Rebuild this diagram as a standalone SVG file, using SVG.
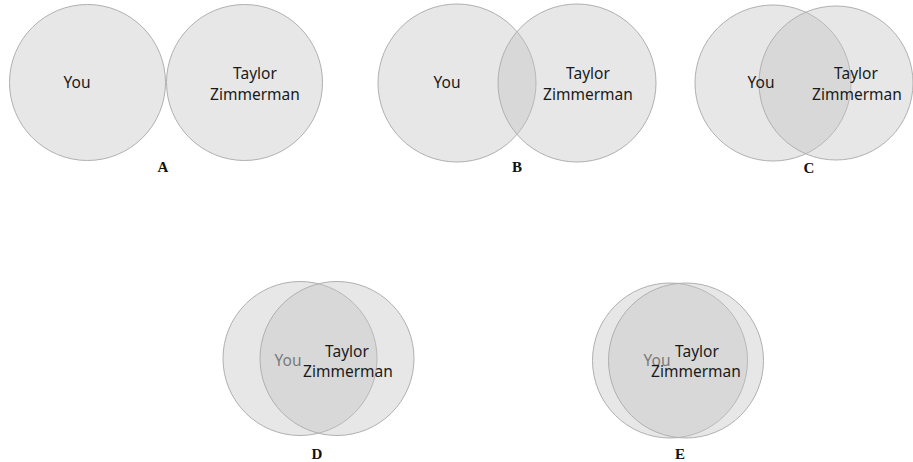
<svg xmlns="http://www.w3.org/2000/svg" width="913" height="462" viewBox="0 0 913 462">
<style>
.c{fill:#c4c4c4;fill-opacity:0.4;stroke:#b0b0b0;stroke-width:1}
.t{font-family:"Noto Sans","Open Sans",sans-serif;font-size:15.5px;fill:#1a1a1a;text-anchor:middle}
.g{fill:#7a7a7a}
.l{font-family:"Liberation Serif",serif;font-weight:bold;font-size:15px;fill:#111;text-anchor:middle}
</style>
<rect width="913" height="462" fill="#fff"/>
<g id="A">
<circle class="c" cx="87.5" cy="82.5" r="78"/>
<circle class="c" cx="244.5" cy="82.5" r="78"/>
<text class="t" x="77" y="88">You</text>
<text class="t" x="255" y="79">Taylor</text>
<text class="t" x="255" y="100">Zimmerman</text>
<text class="l" x="163" y="172">A</text>
</g>
<g id="B">
<circle class="c" cx="457" cy="83" r="79"/>
<circle class="c" cx="577" cy="83" r="79"/>
<text class="t" x="447" y="88">You</text>
<text class="t" x="588" y="79">Taylor</text>
<text class="t" x="588" y="100">Zimmerman</text>
<text class="l" x="517" y="172">B</text>
</g>
<g id="C">
<circle class="c" cx="773" cy="83" r="78"/>
<circle class="c" cx="836" cy="83" r="77"/>
<text class="t" x="761" y="88">You</text>
<text class="t" x="856" y="79">Taylor</text>
<text class="t" x="857" y="100">Zimmerman</text>
<text class="l" x="809" y="173">C</text>
</g>
<g id="D">
<circle class="c" cx="300" cy="358.5" r="77"/>
<circle class="c" cx="337" cy="358.5" r="77"/>
<text class="t g" x="288" y="366">You</text>
<text class="t" x="347" y="357">Taylor</text>
<text class="t" x="348" y="377">Zimmerman</text>
<text class="l" x="317" y="459">D</text>
</g>
<g id="E">
<circle class="c" cx="670" cy="360.5" r="77.5"/>
<circle class="c" cx="686" cy="360.5" r="77.5"/>
<text class="t g" x="657" y="366">You</text>
<text class="t" x="697" y="357">Taylor</text>
<text class="t" x="696" y="377">Zimmerman</text>
<text class="l" x="680" y="459">E</text>
</g>
<g id="connectors"/>
</svg>
